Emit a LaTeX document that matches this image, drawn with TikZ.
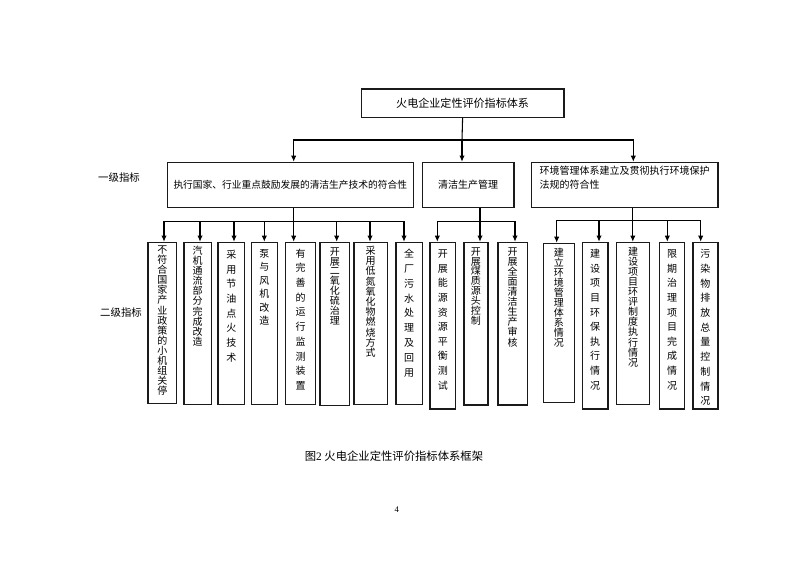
\documentclass[tikz,border=0pt]{standalone}
\usepackage{fontspec}
\setmainfont{Liberation Serif}
\newfontfamily\cjk{Noto Sans CJK SC}
\usetikzlibrary{arrows.meta}
\definecolor{boxline}{HTML}{1A1A1A}
\newdimen\pxu \pxu=0.75pt
\makeatletter
% column of characters: #1 height, #2 first baseline, #3 pitch (px), #4 text
\newcommand\vtext[4]{\vbox to #1\pxu{\baselineskip=#3\pxu\relax\vskip #2\pxu\relax
  \@tfor\vch:=#4\do{\hbox to 12pt{\hss\smash{\vch}\hss}}\vss}}
\makeatother
\begin{document}
\begin{tikzpicture}[x=0.75pt, y=-0.75pt, >={Latex[length=4.5pt,width=4pt]},
  lvone/.style={draw=boxline, line width=0.9pt, inner sep=0pt, anchor=north west},
  lvtwo/.style={draw=boxline, line width=0.9pt, inner sep=0pt, anchor=north west,
    font=\cjk\fontsize{7.5}{9}\selectfont},
  wire/.style={line width=0.8pt}]

\useasboundingbox (0,0) rectangle (793,561);

% Root box
\node[lvone, minimum width=202.6*\pxu, minimum height=28.4*\pxu,
  font=\cjk\fontsize{8.3}{10}\selectfont] (top) at (360.7,88.3) {火电企业定性评价指标体系};

% First level
\node[lvone, minimum width=246*\pxu, minimum height=45*\pxu,
  font=\cjk\fontsize{7.3}{9}\selectfont] (a) at (166.7,161.7)
  {执行国家、行业重点鼓励发展的清洁生产技术的符合性};
\node[lvone, minimum width=91.6*\pxu, minimum height=45*\pxu,
  font=\cjk\fontsize{7.5}{9}\selectfont] (b) at (421.7,161.7) {清洁生产管理};
\node[lvone, minimum width=186.6*\pxu, minimum height=45*\pxu, align=left,
  font=\cjk\fontsize{7.5}{10.5}\selectfont] (c) at (530.7,161.7)
  {环境管理体系建立及贯彻执行环境保护\\法规的符合性\\[1pt]};

% Second level
\node[lvtwo, minimum width=28.7*\pxu] (s1) at (147.3,241.7) {\vtext{161}{11.4}{10.05}{不符合国家产业政策的小机组关停}};
\node[lvtwo, minimum width=27.4*\pxu] (s2) at (183.3,241.7) {\vtext{162.3}{12.1}{10.1}{汽机通流部分完成改造}};
\node[lvtwo, minimum width=26.7*\pxu] (s3) at (217.3,241.7) {\vtext{162.3}{16.1}{14.7}{采用节油点火技术}};
\node[lvtwo, minimum width=25.7*\pxu] (s4) at (251,241.7) {\vtext{162.3}{14.8}{13.5}{泵与风机改造}};
\node[lvtwo, minimum width=30*\pxu] (s5) at (285,241.7) {\vtext{162.3}{14.8}{14.7}{有完善的运行监测装置}};
\node[lvtwo, minimum width=29.7*\pxu] (s6) at (319.3,241.7) {\vtext{163.3}{12.8}{9.9}{开展二氧化硫治理}};
\node[lvtwo, minimum width=33.4*\pxu] (s7) at (353.3,241.7) {\vtext{162.3}{12.1}{10.2}{采用低氮氧化物燃烧方式}};
\node[lvtwo, minimum width=26.4*\pxu] (s8) at (395.3,241.7) {\vtext{162.3}{15.4}{14.8}{全厂污水处理及回用}};
\node[lvtwo, minimum width=25.7*\pxu] (s9) at (429.3,241.7) {\vtext{166.6}{15.4}{14.6}{开展能源资源平衡测试}};
\node[lvtwo, minimum width=24*\pxu] (s10) at (463.3,241.7) {\vtext{162.6}{12.8}{9.9}{开展煤质源头控制}};
\node[lvtwo, minimum width=29.4*\pxu] (s11) at (497.3,241.7) {\vtext{162.6}{12.8}{10.1}{开展全面清洁生产审核}};
\node[lvtwo, minimum width=31.3*\pxu] (s12) at (542.7,242.7) {\vtext{159}{12.8}{10}{建立环境管理体系情况}};
\node[lvtwo, minimum width=25.6*\pxu] (s13) at (581.7,241.7) {\vtext{166.6}{15.4}{14.6}{建设项目环保执行情况}};
\node[lvtwo, minimum width=33*\pxu] (s14) at (616,241.7) {\vtext{162.3}{12.8}{10.1}{建设项目环评制度执行情况}};
\node[lvtwo, minimum width=25*\pxu] (s15) at (659,241.7) {\vtext{166.6}{15.4}{14.6}{限期治理项目完成情况}};
\node[lvtwo, minimum width=25*\pxu] (s16) at (692.3,241.7) {\vtext{166.6}{15.4}{14.7}{污染物排放总量控制情况}};

% Level labels
\node[font=\cjk\fontsize{7.8}{9}\selectfont] (l1) at (119,178) {一级指标};
\node[font=\cjk\fontsize{7.8}{9}\selectfont] (l2) at (121,313) {二级指标};

% Root to first level
\coordinate (j0) at (462,140);
\draw[wire] (top.south) -- (j0);
\draw[wire,->] (j0) -- (j0 |- b.north);
\draw[wire,->] (j0) -| (293.7,0 |- a.north);
\draw[wire,->] (j0) -| (633.3,0 |- c.north);

% First level to second level
\coordinate (ja) at (293.7,221.7);
\coordinate (jb) at (480,221.7);
\coordinate (jc) at (632.8,220.7);
\draw[wire] (a.south -| ja) -- (ja);
\draw[wire] (b.south -| jb) -- (jb);
\draw[wire] (c.south -| jc) -- (jc);
\draw[wire,->] (ja) -- (s5.north -| ja);
\foreach \n/\x in {s1/164,s2/200,s3/234,s4/264.3,s6/336.7,s7/370,s8/404}
  \draw[wire,->] (ja) -| (\x,0 |- \n.north);
\draw[wire,->] (jb) -- (s10.north -| jb);
\foreach \n/\x in {s9/437.3,s11/515}
  \draw[wire,->] (jb) -| (\x,0 |- \n.north);
\draw[wire,->] (jc) -- (s14.north -| jc);
\foreach \n/\x in {s12/556.7,s13/599,s15/667.3,s16/700.7}
  \draw[wire,->] (jc) -| (\x,0 |- \n.north);

% Caption and page number
\node[font=\cjk\fontsize{8.5}{10}\selectfont] (cap) at (394,455.7) {图{\rmfamily 2} 火电企业定性评价指标体系框架};
\node[font=\fontsize{6.5}{8}\selectfont] (pg) at (396.7,510) {4};

\end{tikzpicture}
\end{document}
